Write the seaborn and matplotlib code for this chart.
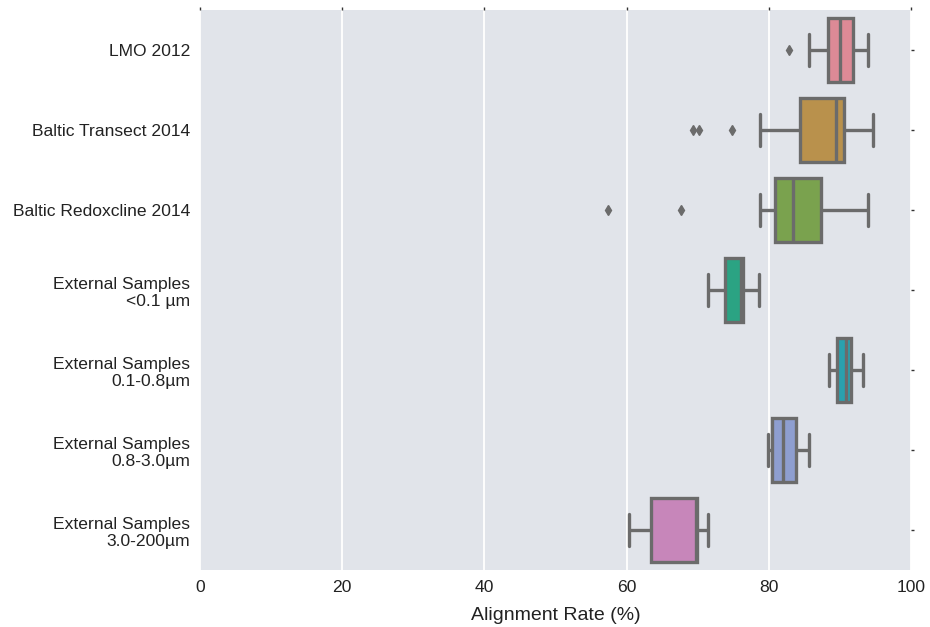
import matplotlib
matplotlib.use("Agg")
import matplotlib.pyplot as plt
import seaborn as sns
import pandas as pd

categories = ["LMO 2012", "Baltic Transect 2014", "Baltic Redoxcline 2014",
              "External Samples\n<0.1 µm", "External Samples\n0.1-0.8µm",
              "External Samples\n0.8-3.0µm", "External Samples\n3.0-200µm"]

lmo_2012 = [82.8, 85.7, 88.3, 89.2, 90.0, 91.0, 91.8, 92.8, 93.9]
baltic_transect = [69.3, 70.2, 74.8, 78.8, 84.4, 86.0, 87.5, 88.8, 89.5,
                   89.8, 90.1, 90.4, 90.6, 91.5, 92.5, 93.5, 94.6]
baltic_redoxcline = [57.4, 67.6, 78.8, 80.9, 81.8, 82.6, 83.4, 84.8, 86.2,
                     87.3, 89.5, 91.8, 94.0]
ext_lt01 = [71.5, 73.8, 76.1, 76.4, 78.6]
ext_01_08 = [88.5, 89.6, 90.8, 91.6, 93.2]
ext_08_30 = [79.9, 80.4, 82.0, 83.8, 85.6]
ext_30_200 = [60.4, 63.4, 69.8, 69.9, 71.5]

series = [lmo_2012, baltic_transect, baltic_redoxcline,
          ext_lt01, ext_01_08, ext_08_30, ext_30_200]

box_colors = ["#DD8A96", "#B9914C", "#7AA24E", "#2BA383",
              "#2AA1AE", "#8E9ED0", "#C786BA"]

rows = []
for cat, vals in zip(categories, series):
    for v in vals:
        rows.append({"group": cat, "rate": v})
df = pd.DataFrame(rows)

sns.set_theme(style="darkgrid")
plt.rcParams['font.family'] = ['Liberation Sans', 'DejaVu Sans']

fig = plt.figure(figsize=(9.3, 6.27), dpi=100)
ax = fig.add_axes([200/930, 1-570/627, 711/930, 560/627])
ax.set_facecolor("#E1E4EA")

sns.boxplot(data=df, x="rate", y="group", order=categories, hue="group",
            hue_order=categories, palette=box_colors, legend=False,
            orient="h", width=0.8, linewidth=2.4, linecolor="#6b6b6b",
            saturation=1, whis=1.5,
            flierprops=dict(marker="d", markersize=5, markerfacecolor="#6b6b6b",
                            markeredgecolor="#6b6b6b"),
            ax=ax)

ax.set_xlim(0, 100)
ax.set_xticks([0, 20, 40, 60, 80, 100])
ax.grid(axis="x", color="white", linewidth=1.3)
ax.grid(axis="y", visible=False)
for s in ax.spines.values():
    s.set_visible(False)
ax.tick_params(axis="both", which="major", direction="out", length=2, width=1,
               color="#333333", top=True, right=True, labelsize=12.6, pad=5)
ax.set_xlabel("Alignment Rate (%)", fontsize=14, labelpad=9, color="#222222")
ax.set_ylabel("")
for t in ax.get_yticklabels() + ax.get_xticklabels():
    t.set_color("#222222")

fig.savefig("out.png", dpi=100)
